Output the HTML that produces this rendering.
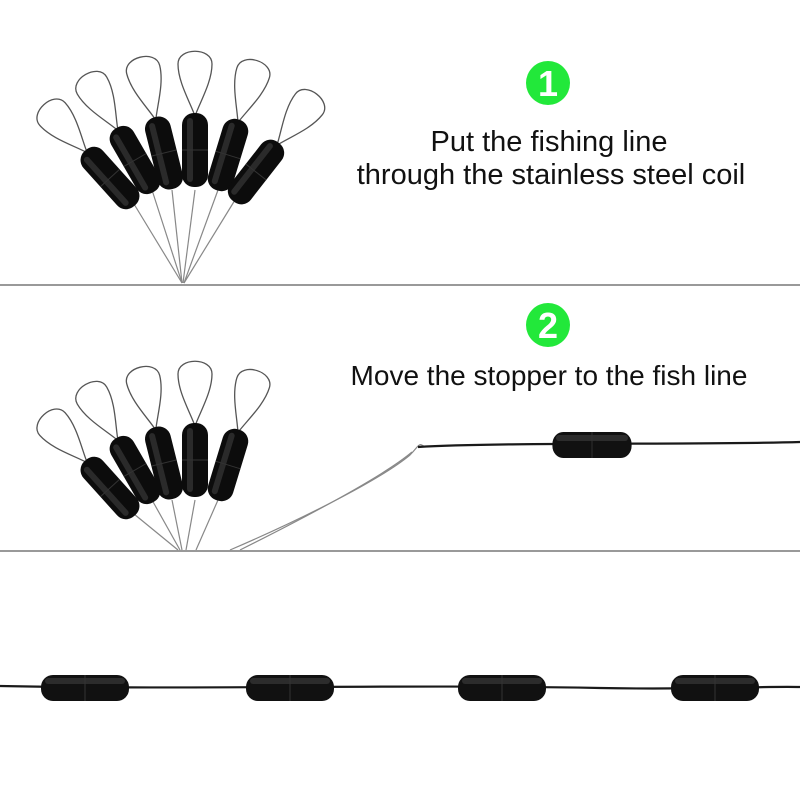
<!DOCTYPE html>
<html><head><style>body{margin:0;background:#fff}svg{display:block}</style></head><body>
<svg width="800" height="800" viewBox="0 0 800 800" xmlns="http://www.w3.org/2000/svg">
<defs>
<g id="st">
<path d="M0,-34 C-5,-48 -17,-68 -17,-86 C-17,-103 17,-103 17,-86 C17,-68 5,-48 0,-34" fill="none" stroke="#555" stroke-width="1.3"/>
<rect x="-13" y="-37" width="26" height="74" rx="12" fill="#0c0c0c"/>
<rect x="-8" y="-32" width="6" height="64" rx="3" fill="#2a2a2a"/>
<line x1="-13" y1="0" x2="13" y2="0" stroke="#333" stroke-width="1"/>
</g>
<g id="hs">
<rect x="-44" y="-13" width="88" height="26" rx="12" fill="#111"/>
<rect x="-40" y="-10" width="80" height="6" rx="3" fill="#2c2c2c"/>
<line x1="0" y1="-13" x2="0" y2="13" stroke="#333"/>
</g>
</defs>
<line x1="0" y1="285" x2="800" y2="285" stroke="#999" stroke-width="2"/>
<line x1="0" y1="551" x2="800" y2="551" stroke="#999" stroke-width="2"/>
<g stroke="#888" stroke-width="1.2" fill="none">
<path d="M134,204 L182,283"/><path d="M152,190 L182,283"/><path d="M172,190 L182,283"/>
<path d="M195,190 L183,283"/><path d="M218,190 L184,283"/><path d="M235,200 L184,283"/>
</g>
<use href="#st" transform="translate(110,178) rotate(-42)"/>
<use href="#st" transform="translate(135,160) rotate(-30)"/>
<use href="#st" transform="translate(164,153) rotate(-14)"/>
<use href="#st" transform="translate(195,150)"/>
<use href="#st" transform="translate(228,155) rotate(17)"/>
<use href="#st" transform="translate(256,172) rotate(38)"/>
<circle cx="548" cy="83" r="22" fill="#22e83a"/>
<text x="548" y="96" text-anchor="middle" font-family="Liberation Sans, sans-serif" font-weight="bold" font-size="36" fill="#fff">1</text>
<text x="549" y="151" text-anchor="middle" font-family="Liberation Sans, sans-serif" font-size="29" fill="#111">Put the fishing line</text>
<text x="551" y="184" text-anchor="middle" font-family="Liberation Sans, sans-serif" font-size="29" fill="#111">through the stainless steel coil</text>
<g stroke="#888" stroke-width="1.2" fill="none">
<path d="M134,514 L178,550"/><path d="M152,500 L180,550"/><path d="M172,500 L182,550"/>
<path d="M195,500 L186,550"/><path d="M218,500 L196,550"/>
<path d="M230,550 C300,520 380,480 410,455 C420,445 418,442 425,447"/>
<path d="M240,550 C310,515 385,475 412,452"/>
</g>
<path d="M418,447 C500,442 700,445 800,442" stroke="#1a1a1a" stroke-width="2.2" fill="none"/>
<use href="#st" transform="translate(110,488) rotate(-42)"/>
<use href="#st" transform="translate(135,470) rotate(-30)"/>
<use href="#st" transform="translate(164,463) rotate(-14)"/>
<use href="#st" transform="translate(195,460)"/>
<use href="#st" transform="translate(228,465) rotate(17)"/>
<use href="#hs" transform="translate(592,445) scale(0.9,1)"/>
<circle cx="548" cy="325" r="22" fill="#22e83a"/>
<text x="548" y="338" text-anchor="middle" font-family="Liberation Sans, sans-serif" font-weight="bold" font-size="36" fill="#fff">2</text>
<text x="549" y="385" text-anchor="middle" font-family="Liberation Sans, sans-serif" font-size="28" fill="#111">Move the stopper to the fish line</text>
<path d="M0,686 C200,690 400,684 600,688 C700,690 760,686 800,687" stroke="#1a1a1a" stroke-width="2.2" fill="none"/>
<use href="#hs" transform="translate(85,688)"/>
<use href="#hs" transform="translate(290,688)"/>
<use href="#hs" transform="translate(502,688)"/>
<use href="#hs" transform="translate(715,688)"/>
</svg>
</body></html>
